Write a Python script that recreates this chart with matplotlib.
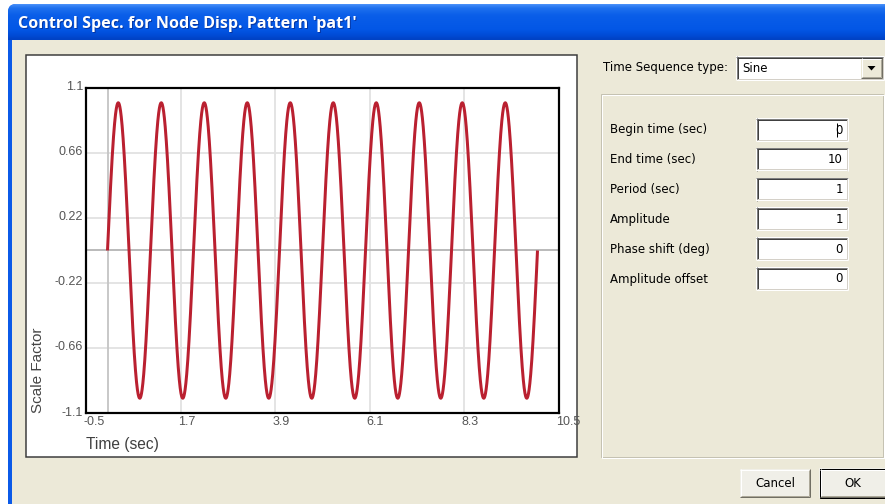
import numpy as np
import matplotlib
matplotlib.use('Agg')
import matplotlib.pyplot as plt
from matplotlib.patches import Rectangle, FancyBboxPatch, Polygon
from matplotlib.transforms import ScaledTranslation
from matplotlib.colors import to_rgb

# ---------------- data ----------------
title_text = "Control Spec. for Node Disp. Pattern 'pat1'"
x_ticks = [-0.5, 1.7, 3.9, 6.1, 8.3, 10.5]
x_tick_labels = ['-0.5', '1.7', '3.9', '6.1', '8.3', '10.5']
y_ticks = [-1.1, -0.66, -0.22, 0.22, 0.66, 1.1]
y_tick_labels = ['-1.1', '-0.66', '-0.22', '0.22', '0.66', '1.1']
x_label = 'Time (sec)'
y_label = 'Scale Factor'
seq_label = 'Time Sequence type:'
seq_type = 'Sine'
param_labels = ['Begin time (sec)', 'End time (sec)', 'Period (sec)',
                'Amplitude', 'Phase shift (deg)', 'Amplitude offset']
param_texts = ['0', '10', '1', '1', '0', '0']
begin_time = 0.0
end_time = 10.0
period = 1.0
amplitude = 1.0
phase_deg = 0.0
amp_offset = 0.0
button_labels = ['Cancel', 'OK']

# the time sequence defined by the dialog parameters
t = np.linspace(begin_time, end_time, 4001)
scale = amplitude * np.sin(2 * np.pi * (t - begin_time) / period + np.radians(phase_deg)) + amp_offset

# ---------------- figure ----------------
W, H = 885, 504
fig = plt.figure(figsize=(W / 100, H / 100), dpi=100)
fig.patch.set_facecolor('white')
bg = fig.add_axes([0, 0, 1, 1])
bg.axis('off')

PX = 0.72  # points per pixel
BEIGE = '#ECE9D8'
DLG_FONT = 'DejaVu Sans'
DLG_SIZE = 8.5

# window frame + title bar
frame = FancyBboxPatch((8, 4), 920, 600, boxstyle='round,pad=0,rounding_size=8',
                       facecolor='#0B5AE8', edgecolor='none', zorder=1)
bg.add_patch(frame)
stops_y = [4, 6, 9, 16, 30, 36, 40]
stops_c = ['#5E9DFB', '#3A86F6', '#1E70EE', '#0A5EE9', '#0357E6', '#004BD6', '#0042C4']
rows = np.arange(4, 41, 0.5)
rgb = np.array([to_rgb(c) for c in stops_c])
grad = np.stack([np.interp(rows, stops_y, rgb[:, k]) for k in range(3)], axis=1)
img = np.repeat(grad[:, None, :], 2, axis=1)
im = bg.imshow(img, extent=(8, 928, 40.5, 4), aspect='auto', zorder=2, interpolation='bilinear')
im.set_clip_path(frame)

# dialog body
bg.add_patch(Rectangle((12, 40), W, H, facecolor=BEIGE, edgecolor='none', zorder=3))

# title text with shadow
TITLE_SIZE = 11.6
bg.text(19, 25, title_text, color='#0A1E70', alpha=0.55, fontsize=TITLE_SIZE,
        fontweight='bold', family='Open Sans', va='center', ha='left', zorder=4)
bg.text(18, 24, title_text, color='white', fontsize=TITLE_SIZE,
        fontweight='bold', family='Open Sans', va='center', ha='left', zorder=5)

# chart panel
bg.add_patch(Rectangle((26, 54.5), 551, 402, facecolor='white', edgecolor='#3A3A3A',
                       linewidth=1.5 * PX, zorder=4))


def hline(x0, x1, y, c, lw=1):
    bg.plot([x0, x1], [y, y], color=c, lw=lw * PX, solid_capstyle='butt', zorder=6)


def vline(x, y0, y1, c, lw=1):
    bg.plot([x, x], [y0, y1], color=c, lw=lw * PX, solid_capstyle='butt', zorder=6)


def sunken(x0, y0, x1, y1, fill='white'):
    bg.add_patch(Rectangle((x0, y0), x1 - x0, y1 - y0, facecolor=fill, edgecolor='none', zorder=5))
    hline(x0, x1, y0 + 0.5, '#808080')
    vline(x0 + 0.5, y0, y1, '#808080')
    hline(x0 + 1, x1 - 1, y0 + 1.5, '#404040')
    vline(x0 + 1.5, y0 + 1, y1 - 1, '#404040')
    hline(x0, x1, y1 - 0.5, '#FFFFFF')
    vline(x1 - 0.5, y0, y1, '#FFFFFF')
    hline(x0 + 1, x1 - 1, y1 - 1.5, '#D4D0C8')
    vline(x1 - 1.5, y0 + 1, y1 - 1, '#D4D0C8')


def raised(x0, y0, x1, y1, fill='#F0EFE8', default=False):
    bg.add_patch(Rectangle((x0, y0), x1 - x0, y1 - y0, facecolor=fill, edgecolor='none', zorder=5))
    if default:
        bg.add_patch(Rectangle((x0 + 0.5, y0 + 0.5), x1 - x0 - 1, y1 - y0 - 1, facecolor='none',
                               edgecolor='#000000', lw=PX, zorder=6))
        x0, y0, x1, y1 = x0 + 1, y0 + 1, x1 - 1, y1 - 1
    hline(x0, x1, y0 + 0.5, '#FFFFFF')
    vline(x0 + 0.5, y0, y1, '#FFFFFF')
    hline(x0, x1, y1 - 0.5, '#716F64')
    vline(x1 - 0.5, y0, y1, '#716F64')
    hline(x0 + 1, x1 - 1, y1 - 1.5, '#ACA899')
    vline(x1 - 1.5, y0 + 1, y1 - 1, '#ACA899')


# time sequence combobox
bg.text(603, 67.5, seq_label, fontsize=DLG_SIZE, family=DLG_FONT, va='center', ha='left', zorder=7)
sunken(736, 56, 884, 80)
bg.text(742, 68, seq_type, fontsize=DLG_SIZE, family=DLG_FONT, va='center', ha='left', zorder=7)
raised(861, 58, 882, 78, fill=BEIGE)
bg.add_patch(Polygon([[867.5, 66], [875.5, 66], [871.5, 70.5]], closed=True,
                     facecolor='black', edgecolor='none', zorder=7))

# group box (etched)
bg.add_patch(Rectangle((600.5, 93.5), 282, 363, facecolor='none', edgecolor='#C5C2B2',
                       lw=PX, zorder=6))
bg.add_patch(Rectangle((601.5, 94.5), 282, 363, facecolor='none', edgecolor='#FFFFFF',
                       lw=PX, zorder=6))

# parameter rows
row_y0 = 118
row_dy = 29.8
for i, (lab, val) in enumerate(zip(param_labels, param_texts)):
    yc = row_y0 + 12 + i * row_dy
    bg.text(610, yc, lab, fontsize=DLG_SIZE, family=DLG_FONT, va='center', ha='left', zorder=7)
    sunken(756, yc - 12, 848, yc + 11)
    bg.text(843, yc, val, fontsize=DLG_SIZE, family=DLG_FONT, va='center', ha='right', zorder=7)
    if i == 0:
        vline(836.5, yc - 7, yc + 7, '#000000')

# buttons
raised(740, 469, 810, 497)
bg.text(775, 483.5, button_labels[0], fontsize=DLG_SIZE, family=DLG_FONT, va='center', ha='center', zorder=7)
raised(819, 468, 889, 498, default=True)
bg.text(853, 483.5, button_labels[1], fontsize=DLG_SIZE, family=DLG_FONT, va='center', ha='center', zorder=7)

# axis titles (in pixel space of the panel)
bg.text(38, 413, y_label, rotation=90, fontsize=11, color='#454545', family='Liberation Sans',
        ha='center', va='bottom', zorder=7)
bg.text(86, 444, x_label, fontsize=11.2, color='#404040', family='Liberation Sans',
        ha='left', va='center', zorder=7)

bg.set_xlim(0, W)
bg.set_ylim(H, 0)

# ---------------- chart ----------------
L, R, T, B = 86, 559, 88, 413
ax = fig.add_axes([L / W, 1 - B / H, (R - L) / W, (B - T) / H])
ax.set_facecolor('white')
ax.set_xlim(x_ticks[0], x_ticks[-1])
ax.set_ylim(y_ticks[0], y_ticks[-1])
ax.set_axisbelow(True)
ax.grid(True, color='#E2E2E2', linewidth=1.8 * PX)
ax.axhline(0, color='#B4B4B4', linewidth=1.8 * PX, zorder=1)
ax.axvline(0, color='#C4C4C4', linewidth=1.8 * PX, zorder=1)
ax.plot(t, scale, color='#BA2030', linewidth=3.0 * PX, zorder=3, solid_capstyle='butt')
for s in ax.spines.values():
    s.set_color('black')
    s.set_linewidth(2.2 * PX)
    s.set_zorder(4)

ax.set_xticks(x_ticks, x_tick_labels)
ax.set_yticks(y_ticks, y_tick_labels)
ax.tick_params(length=0, labelsize=9, labelcolor='#555555')
ax.tick_params(axis='x', pad=2.5)
ax.tick_params(axis='y', pad=2.2)
for lbl in ax.get_xticklabels():
    lbl.set_family('Liberation Sans')
    lbl.set_ha('left')
    lbl.set_transform(lbl.get_transform() + ScaledTranslation(-3 / 100, 0, fig.dpi_scale_trans))
for lbl in ax.get_yticklabels():
    lbl.set_family('Liberation Sans')
    lbl.set_transform(lbl.get_transform() + ScaledTranslation(0, 2 / 100, fig.dpi_scale_trans))

fig.savefig('out.png', dpi=100, facecolor='white')
